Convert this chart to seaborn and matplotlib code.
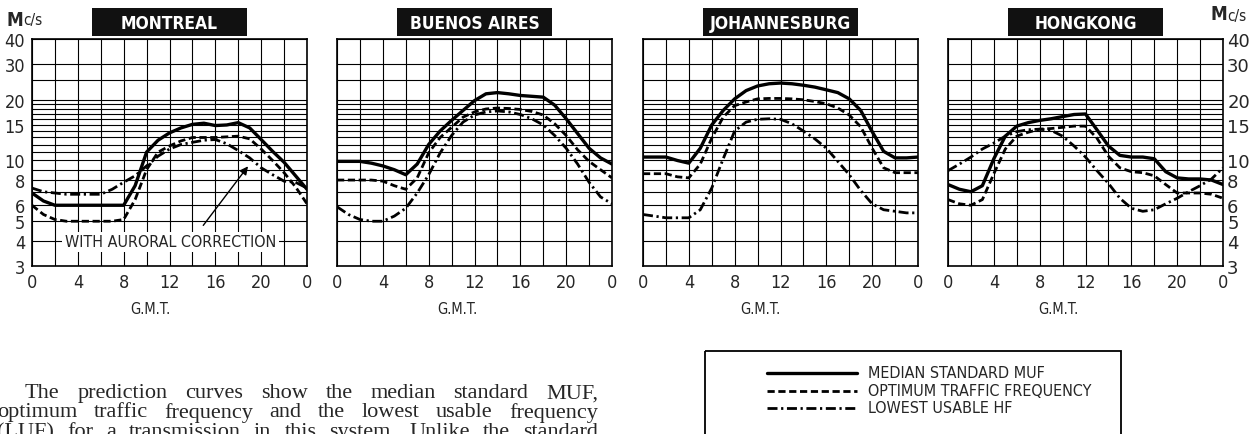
import numpy as np
import pandas as pd
import seaborn as sns
import matplotlib.pyplot as plt
from matplotlib.patches import Rectangle
from matplotlib.ticker import NullLocator

# ---- data (hourly, 0..24 G.M.T., Mc/s) ----
hours = list(range(25))
cities = ["MONTREAL", "BUENOS AIRES", "JOHANNESBURG", "HONGKONG"]

montreal_muf = [6.9, 6.3, 6.0, 6.0, 6.0, 6.0, 6.0, 6.0, 6.0, 7.5, 11.0, 12.6, 13.7,
                14.5, 15.1, 15.3, 14.9, 15.0, 15.4, 14.5, 12.7, 11.1, 9.8, 8.4, 7.2]
montreal_otf = [6.0, 5.4, 5.1, 5.0, 5.0, 5.0, 5.0, 5.0, 5.1, 6.4, 9.0, 11.0, 11.8,
                12.5, 13.0, 13.0, 13.0, 13.1, 13.2, 12.8, 11.4, 10.0, 8.7, 7.4, 6.1]
montreal_luf = [7.3, 7.0, 6.9, 6.8, 6.8, 6.8, 6.8, 7.2, 7.8, 8.4, 9.4, 10.5, 11.4,
                12.0, 12.3, 12.6, 12.7, 12.1, 11.2, 10.3, 9.2, 8.5, 7.9, 7.8, 7.3]

buenos_muf = [9.9, 9.9, 9.9, 9.7, 9.4, 9.0, 8.5, 9.6, 12.0, 14.0, 15.8, 17.7, 19.8,
              21.4, 21.7, 21.4, 21.0, 20.8, 20.6, 18.8, 16.1, 13.6, 11.5, 10.3, 9.6]
buenos_otf = [8.0, 8.0, 8.0, 8.0, 7.9, 7.5, 7.2, 8.2, 10.9, 13.0, 14.6, 16.4, 17.4,
              18.0, 18.2, 18.1, 17.9, 17.5, 16.8, 15.2, 13.3, 11.3, 9.9, 9.0, 8.2]
buenos_luf = [5.9, 5.4, 5.1, 5.0, 5.0, 5.3, 5.8, 6.9, 8.5, 10.9, 13.3, 15.5, 16.8,
              17.4, 17.6, 17.4, 16.9, 16.1, 15.0, 13.3, 11.5, 9.6, 7.8, 6.6, 6.1]

joburg_muf = [10.4, 10.4, 10.4, 10.0, 9.7, 11.5, 15.0, 17.7, 20.2, 22.2, 23.4, 24.0, 24.2,
              24.0, 23.6, 23.1, 22.4, 21.7, 20.2, 17.7, 13.9, 11.1, 10.3, 10.3, 10.4]
joburg_otf = [8.6, 8.6, 8.6, 8.3, 8.2, 9.6, 12.9, 16.4, 18.7, 19.5, 20.2, 20.3, 20.3,
              20.2, 20.0, 19.6, 19.1, 18.2, 16.8, 14.7, 11.5, 9.2, 8.7, 8.7, 8.7]
joburg_luf = [5.4, 5.3, 5.2, 5.2, 5.2, 5.7, 7.3, 10.2, 14.0, 15.5, 16.0, 16.1, 16.0,
              15.2, 14.0, 12.8, 11.5, 9.9, 8.5, 7.1, 6.1, 5.7, 5.6, 5.5, 5.5]

hongkong_muf = [7.6, 7.2, 7.0, 7.5, 10.2, 13.2, 14.8, 15.4, 15.8, 16.1, 16.5, 16.9, 17.0,
                14.2, 11.8, 10.6, 10.4, 10.4, 10.2, 8.8, 8.2, 8.1, 8.1, 8.0, 7.6]
hongkong_otf = [6.4, 6.1, 6.0, 6.4, 8.6, 11.4, 13.2, 13.8, 14.3, 14.4, 14.6, 14.8, 14.8,
                12.9, 10.5, 9.2, 8.8, 8.7, 8.4, 7.6, 6.9, 6.9, 6.9, 6.8, 6.5]
hongkong_luf = [8.9, 9.6, 10.4, 11.4, 12.2, 13.2, 13.9, 14.2, 14.3, 14.1, 13.2, 11.8, 10.4,
                8.9, 7.7, 6.5, 5.8, 5.6, 5.7, 6.1, 6.5, 7.0, 7.5, 8.1, 9.2]

curve_names = ["MEDIAN STANDARD MUF", "OPTIMUM TRAFFIC FREQUENCY", "LOWEST USABLE HF"]
series = {
    "MONTREAL": [montreal_muf, montreal_otf, montreal_luf],
    "BUENOS AIRES": [buenos_muf, buenos_otf, buenos_luf],
    "JOHANNESBURG": [joburg_muf, joburg_otf, joburg_luf],
    "HONGKONG": [hongkong_muf, hongkong_otf, hongkong_luf],
}

grid_values = [3, 4, 5, 6, 7, 8, 9, 10, 11, 12, 13, 14, 15, 16, 17, 18, 19, 20, 25, 30, 40]
labelled_values = [3, 4, 5, 6, 8, 10, 15, 20, 30, 40]
x_ticks = list(range(0, 25, 2))
x_labels = ["0", "", "4", "", "8", "", "12", "", "16", "", "20", "", "0"]

body_lines = [
    "The prediction curves show the median standard MUF,",
    "optimum traffic frequency and the lowest usable frequency",
    "(LUF) for a transmission in this system. Unlike the standard",
]

# ---- style ----
sns.set_style("white")
plt.rcParams["font.family"] = ["DejaVu Sans"]
cond = dict(family="DejaVu Sans", stretch="condensed")

W, H = 1260, 435
fig = plt.figure(figsize=(W / 100, H / 100), dpi=100)

dash_map = {curve_names[0]: "", curve_names[1]: (2.6, 1.3), curve_names[2]: (3.6, 1.3, 0.8, 1.3)}
size_map = {curve_names[0]: 2.4, curve_names[1]: 2.0, curve_names[2]: 2.0}

panel_left = [32, 337, 643, 948]
panel_w, top_px, bottom_px = 275, 40, 267


def px_box(left, top, width, height):
    return [left / W, 1 - (top + height) / H, width / W, height / H]


for i, city in enumerate(cities):
    ax = fig.add_axes(px_box(panel_left[i], top_px, panel_w, bottom_px - top_px))
    rows = []
    for name, vals in zip(curve_names, series[city]):
        rows += [{"hour": h, "mcs": v, "curve": name} for h, v in zip(hours, vals)]
    df = pd.DataFrame(rows)
    sns.lineplot(data=df, x="hour", y="mcs", style="curve", size="curve",
                 dashes=dash_map, sizes=size_map, color="black",
                 legend=False, ax=ax, zorder=3)

    ax.set_yscale("log")
    ax.set_xlim(0, 24)
    ax.set_ylim(3, 40)
    ax.set_yticks(grid_values)
    ax.yaxis.set_minor_locator(NullLocator())
    ax.set_yticklabels([str(v) if v in labelled_values else "" for v in grid_values])
    ax.set_xticks(x_ticks)
    ax.set_xticklabels(x_labels)
    ax.set_xlabel("")
    ax.set_ylabel("")
    ax.grid(True, color="black", linewidth=0.8)
    for s in ax.spines.values():
        s.set_color("black")
        s.set_linewidth(1.2)
    ax.tick_params(axis="x", length=0, pad=5, labelsize=13)
    ax.tick_params(axis="y", length=0, labelsize=13)
    for lab in ax.get_xticklabels() + ax.get_yticklabels():
        lab.set_fontstretch("condensed")
    if i == 0:
        ax.tick_params(axis="y", pad=5)
    elif i == len(cities) - 1:
        ax.yaxis.tick_right()
        ax.tick_params(axis="y", length=0, pad=3)
    else:
        ax.tick_params(axis="y", labelleft=False)

    # black title plate
    bw = 155 / panel_w
    ax.add_patch(Rectangle((0.5 - bw / 2, 1.012), bw, 0.125, transform=ax.transAxes,
                           facecolor="#111111", edgecolor="none", clip_on=False))
    ax.text(0.5, 1.072, city, transform=ax.transAxes, ha="center", va="center",
            color="white", fontsize=12.5, fontweight="bold", **cond)

    if city == "MONTREAL":
        ax.annotate("", xy=(19.0, 9.6), xytext=(14.8, 4.65),
                    arrowprops=dict(arrowstyle="-|>", color="black", lw=1.0,
                                    mutation_scale=12))
        ax.text(12.1, 3.95, "WITH AURORAL CORRECTION", ha="center", va="center",
                fontsize=11.5, zorder=4, **cond,
                bbox=dict(facecolor="white", edgecolor="none", pad=2))

# ---- overlay in pixel coordinates for page text and legend box ----
ov = fig.add_axes([0, 0, 1, 1], zorder=-1)
ov.set_xlim(0, W)
ov.set_ylim(H, 0)
ov.axis("off")

ov.text(7, 20, "M", fontsize=13.5, va="center", ha="left", fontweight="bold", **cond)
ov.text(23, 21, "c/s", fontsize=11, va="center", ha="left", **cond)
ov.text(1211, 15, "M", fontsize=13.5, va="center", ha="left", fontweight="bold", **cond)
ov.text(1227, 16, "c/s", fontsize=11, va="center", ha="left", **cond)

for cx in [150, 457, 760, 1058]:
    ov.text(cx, 310, "G.M.T.", fontsize=10.5, ha="center", va="center", **cond)

# legend box, running off the bottom of the page
ov.add_patch(Rectangle((705, 352), 416, 120, facecolor="none", edgecolor="black",
                       linewidth=1.3))
for k, name in enumerate(curve_names):
    y = 374 + 17.5 * k
    ov.plot([767, 857], [y, y], color="black", linewidth=size_map[name],
            dashes=(dash_map[name] if dash_map[name] else (None, None)))
    ov.text(868, y, name, fontsize=11.5, va="center", ha="left", **cond)

# justified body text in a serif face
fig.canvas.draw()
renderer = fig.canvas.get_renderer()
line_spec = [(25, 598, 394), (-3, 598, 413), (-3, 598, 433)]
for text, (x0, x1, y) in zip(body_lines, line_spec):
    words = text.split()
    arts = [ov.text(0, y, w, fontsize=16, family=["Liberation Serif", "DejaVu Serif"],
                    va="center", ha="left") for w in words]
    widths = [a.get_window_extent(renderer).width for a in arts]
    gap = (x1 - x0 - sum(widths)) / (len(words) - 1)
    x = x0
    for a, w in zip(arts, widths):
        a.set_x(x)
        x += w + gap

fig.savefig("out.png", dpi=100, facecolor="white")
